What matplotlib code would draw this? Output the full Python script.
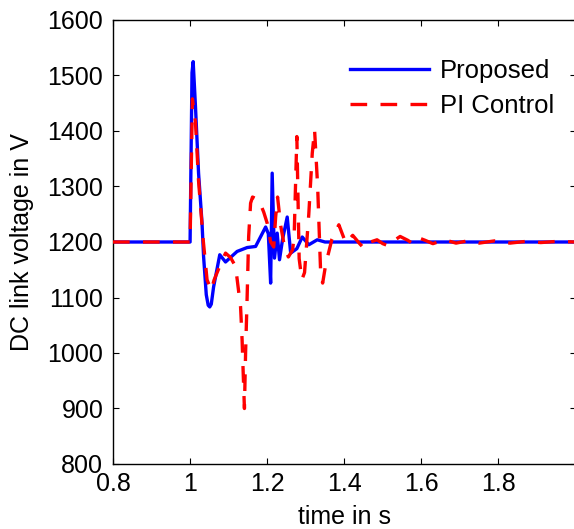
import numpy as np
import matplotlib
matplotlib.use("Agg")
import matplotlib.pyplot as plt

plt.rcParams["font.family"] = ["Liberation Sans", "DejaVu Sans"]

# Proposed controller (solid blue): time in s, DC link voltage in V
t_prop = [0.80, 1.000, 1.005, 1.008, 1.014, 1.022, 1.031, 1.035, 1.042, 1.047,
          1.051, 1.055, 1.061, 1.077, 1.092, 1.122, 1.148, 1.170, 1.196, 1.203,
          1.209, 1.213, 1.219, 1.226, 1.232, 1.240, 1.252, 1.261, 1.277, 1.291,
          1.308, 1.330, 1.350, 2.00]
v_prop = [1200, 1200, 1505, 1525, 1444, 1324, 1234, 1174, 1105, 1086,
          1083, 1088, 1119, 1177, 1164, 1183, 1190, 1192, 1227, 1215,
          1126, 1324, 1171, 1216, 1168, 1205, 1245, 1180, 1188, 1209,
          1195, 1204, 1200, 1200]

# PI control (dashed red)
t_pi = [0.80, 1.000, 1.006, 1.014, 1.022, 1.034, 1.044, 1.055, 1.062, 1.079,
        1.092, 1.105, 1.118, 1.131, 1.135, 1.138, 1.141, 1.144, 1.148, 1.152,
        1.157, 1.162, 1.178, 1.191, 1.200, 1.209, 1.217, 1.222, 1.227, 1.235,
        1.245, 1.255, 1.266, 1.270, 1.277, 1.283, 1.290, 1.297, 1.308, 1.317,
        1.323, 1.331, 1.339, 1.344, 1.352, 1.368, 1.386, 1.404, 1.422, 1.440,
        1.452, 1.468, 1.485, 1.500, 1.515, 1.530, 1.545, 1.565, 1.580, 1.595,
        1.610, 1.630, 1.660, 1.690, 1.720, 1.750, 1.790, 1.830, 1.870, 1.910,
        1.950, 2.00]
v_pi = [1200, 1200, 1458, 1415, 1310, 1204, 1132, 1113, 1131, 1160,
        1180, 1172, 1156, 1083, 1023, 960, 900, 1000, 1100, 1210,
        1270, 1281, 1276, 1254, 1234, 1200, 1191, 1245, 1281, 1230,
        1191, 1173, 1186, 1210, 1390, 1170, 1132, 1145, 1250, 1360,
        1402, 1300, 1140, 1126, 1160, 1205, 1231, 1198, 1212, 1197,
        1188, 1200, 1204, 1197, 1193, 1203, 1210, 1203, 1196, 1207,
        1203, 1197, 1204, 1198, 1202, 1198, 1202, 1198, 1201, 1199,
        1201, 1200]

x_ticks = [0.8, 1.0, 1.2, 1.4, 1.6, 1.8]
x_labels = ["0.8", "1", "1.2", "1.4", "1.6", "1.8"]
y_ticks = [800, 900, 1000, 1100, 1200, 1300, 1400, 1500, 1600]

fig = plt.figure(figsize=(5.74, 5.29), dpi=100)
ax = fig.add_axes([113 / 574, 65 / 529, 462.5 / 574, 444 / 529])

ax.plot(t_prop, v_prop, color="#0000ff", lw=2.4, label="Proposed", zorder=2)
ax.plot(t_pi, v_pi, color="#ff0000", lw=2.4, dashes=(5, 4), label="PI Control", zorder=3)

ax.set_xlim(0.8, 2.0)
ax.set_ylim(800, 1600)
ax.set_xticks(x_ticks)
ax.set_xticklabels(x_labels)
ax.set_yticks(y_ticks)
ax.tick_params(direction="in", length=4, width=0.8, top=True, right=True,
               labelsize=18)
ax.tick_params(axis="y", pad=7)
ax.tick_params(axis="x", pad=6)
for sp in ax.spines.values():
    sp.set_linewidth(1.0)

ax.set_xlabel("time in s", fontsize=18, labelpad=6)
ax.set_ylabel("DC link voltage in V", fontsize=18, labelpad=10)

ax.legend(loc="upper right", bbox_to_anchor=(0.953, 0.913), frameon=False,
          prop={"size": 18.5}, handlelength=3.1, handletextpad=0.4,
          labelspacing=0.45, borderaxespad=0.0, borderpad=0.0)

fig.savefig("out.png", dpi=100)
